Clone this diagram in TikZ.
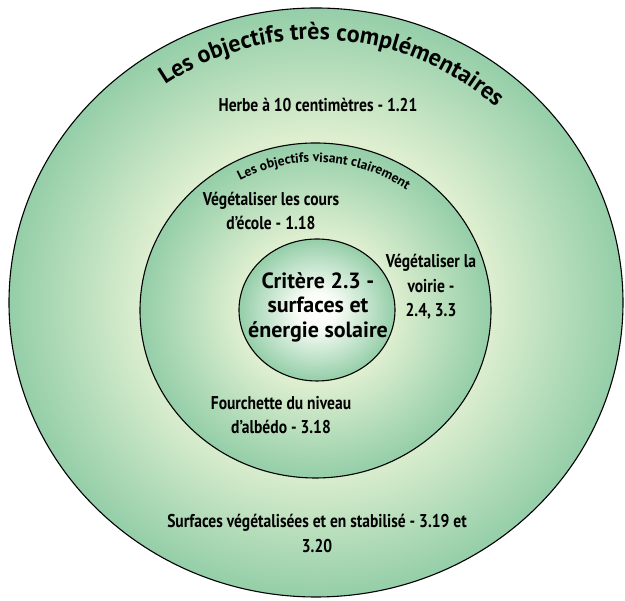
\documentclass[tikz,border=0pt]{standalone}
\usepackage{fontspec}
\setmainfont{PT Sans}
\newfontfamily\condfont[FakeStretch=0.84]{PT Sans}
\usetikzlibrary{decorations.text}
\definecolor{dgreen}{RGB}{148,206,168}
\definecolor{pale}{RGB}{222,239,208}
\definecolor{paler}{RGB}{250,253,247}
\pgfdeclareradialshading{outerring}{\pgfpoint{0bp}{0bp}}{color(0bp)=(pale); color(14bp)=(pale); color(25bp)=(dgreen); color(50bp)=(dgreen)}
\pgfdeclareradialshading{midring}{\pgfpoint{0bp}{0bp}}{color(0bp)=(pale); color(11bp)=(pale); color(25bp)=(dgreen); color(50bp)=(dgreen)}
\pgfdeclareradialshading{innerdisc}{\pgfpoint{0bp}{0bp}}{color(0bp)=(white); color(6bp)=(paler); color(25bp)=(dgreen); color(50bp)=(dgreen)}
\tikzset{
  ring/.style={draw=black, line width=1.1pt},
  lbl/.style={align=center, inner sep=0pt, font=\condfont\bfseries\fontsize{18.5}{24.5}\selectfont},
  core/.style={align=center, inner sep=0pt, font=\bfseries\fontsize{22}{24.5}\selectfont},
}
\begin{document}
\begin{tikzpicture}[x=1pt,y=1pt]
\useasboundingbox (0,0) rectangle (625,601);
% discs
\coordinate (co) at (316,298.5);
\coordinate (cm) at (315.5,290.5);
\coordinate (ci) at (317,291);
\shade[shading=outerring, ring] (co) ellipse [x radius=307, y radius=294.5];
\shade[shading=midring, ring] (cm) ellipse [x radius=175.5, y radius=167.5];
\shade[shading=innerdisc, ring] (ci) ellipse [x radius=78, y radius=71];
% curved headings
\path[decorate, decoration={text along path, text align=center,
  text={|\bfseries\fontsize{24}{24}\selectfont|Les objectifs très complémentaires}}]
  (co) ++(152:268 and 263) arc[start angle=152, end angle=20, x radius=268, y radius=263];
\path[decorate, decoration={text along path, text align=center,
  text={|\bfseries\fontsize{13.5}{13.5}\selectfont|Les objectifs visant clairement}}]
  (cm) ++(140:156 and 148.5) arc[start angle=140, end angle=33, x radius=156, y radius=148.5];
% labels
\node[lbl] (herbe) at (318,496) {Herbe à 10 centimètres - 1.21};
\node[lbl] (surf) at (317,67.5) {Surfaces végétalisées et en stabilisé - 3.19 et\\3.20};
\node[lbl] (cours) at (271,390) {Végétaliser les cours\\d’école - 1.18};
\node[lbl] (voirie) at (431,314) {Végétaliser la\\voirie -\\2.4, 3.3};
\node[lbl] (albedo) at (281,186) {Fourchette du niveau\\d’albédo - 3.18};
\node[core] (crit) at (318,294) {Critère 2.3 -\\surfaces et\\énergie solaire};
\end{tikzpicture}
\end{document}
